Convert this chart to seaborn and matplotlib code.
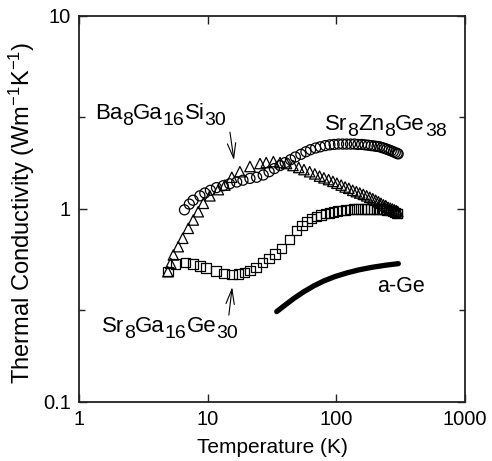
import numpy as np
import pandas as pd
import matplotlib
matplotlib.use("Agg")
import matplotlib.pyplot as plt
from matplotlib.ticker import FixedLocator, FixedFormatter, NullLocator
import seaborn as sns

# Sr8Ga16Ge30 (squares)
t_sr_ga = [4.9, 5.6, 6.7, 7.7, 8.7, 9.7, 11.6, 13.4, 15.4, 17.3, 19.3, 21.3, 23.7,
           26.8, 30.0, 33.4, 37.6, 43.1, 49.2, 54, 59, 64, 70, 76, 82, 88, 95, 102,
           110, 118, 127, 136, 145, 155, 165, 175, 185, 195, 205, 215, 225, 235,
           245, 255, 265, 275, 285, 295, 300]
k_sr_ga = [0.473, 0.519, 0.527, 0.519, 0.507, 0.495, 0.477, 0.464, 0.459, 0.460,
           0.468, 0.479, 0.496, 0.527, 0.555, 0.585, 0.626, 0.697, 0.772, 0.82,
           0.86, 0.89, 0.912, 0.93, 0.945, 0.955, 0.965, 0.975, 0.985, 0.99, 0.995,
           1.0, 1.0, 1.0, 1.0, 1.0, 1.0, 1.0, 1.0, 1.0, 1.0, 0.995, 0.99, 0.985,
           0.98, 0.97, 0.96, 0.95, 0.945]

# Ba8Ga16Si30 (triangles)
t_ba = [4.9, 5.16, 5.41, 5.91, 6.4, 7.07, 7.73, 8.45, 9.25, 10.4, 12.1, 13.6, 15.4,
        17.8, 21.3, 25.5, 28.5, 32.4, 36.5, 41, 46, 51, 56, 62, 68, 74, 80, 87, 94,
        101, 109, 117, 125, 134, 143, 152, 162, 172, 182, 192, 202, 212, 222, 232,
        242, 252, 262, 272, 282, 292, 300]
k_ba = [0.473, 0.523, 0.578, 0.638, 0.705, 0.794, 0.877, 0.968, 1.07, 1.17, 1.26,
        1.33, 1.46, 1.56, 1.66, 1.72, 1.74, 1.76, 1.74, 1.72, 1.68, 1.64, 1.60,
        1.56, 1.52, 1.48, 1.45, 1.42, 1.39, 1.36, 1.33, 1.30, 1.28, 1.25, 1.23,
        1.21, 1.19, 1.17, 1.15, 1.13, 1.11, 1.09, 1.07, 1.05, 1.04, 1.02, 1.01,
        1.00, 0.99, 0.98, 0.97]

# Sr8Zn8Ge38 (circles)
t_sr_zn = [6.6, 7.2, 7.7, 8.7, 9.5, 10.5, 11.7, 13.2, 14.8, 16.8, 18.8, 21.3, 24,
           27, 30, 33, 36.5, 40, 44, 48, 53, 58, 63, 69, 75, 82, 89, 96, 104, 112,
           120, 129, 138, 147, 157, 167, 177, 187, 197, 207, 217, 227, 237, 247,
           257, 267, 277, 287, 297, 302]
k_sr_zn = [0.99, 1.06, 1.11, 1.17, 1.21, 1.25, 1.29, 1.32, 1.35, 1.38, 1.41, 1.44,
           1.46, 1.50, 1.56, 1.62, 1.68, 1.74, 1.80, 1.86, 1.92, 1.98, 2.03, 2.07,
           2.10, 2.13, 2.15, 2.16, 2.17, 2.17, 2.17, 2.17, 2.17, 2.16, 2.16, 2.15,
           2.14, 2.13, 2.12, 2.11, 2.10, 2.08, 2.06, 2.04, 2.02, 2.00, 1.98, 1.96,
           1.94, 1.93]

# amorphous Ge (solid curve)
t_age = [34.4, 40, 47, 56, 67, 80, 97, 120, 150, 190, 240, 303]
k_age = [0.294, 0.318, 0.345, 0.373, 0.400, 0.424, 0.446, 0.466, 0.484, 0.499,
         0.511, 0.521]

x_ticks = [1, 10, 100, 1000]
x_tick_labels = ["1", "10", "100", "1000"]
y_ticks = [0.1, 1, 10]
y_tick_labels = ["0.1", "1", "10"]
y_minor_ticks = [0.3, 3]

sns.set_theme(style="ticks")
plt.rcParams["font.family"] = ["Liberation Sans", "DejaVu Sans"]
plt.rcParams["mathtext.default"] = "regular"

fig = plt.figure(figsize=(4.92, 4.61), dpi=100)
ax = fig.add_axes([0.1606, 0.128, 0.7846, 0.8373])

df_sq = pd.DataFrame({"T": t_sr_ga, "k": k_sr_ga})
df_tr = pd.DataFrame({"T": t_ba, "k": k_ba})
df_ci = pd.DataFrame({"T": t_sr_zn, "k": k_sr_zn})
df_ge = pd.DataFrame({"T": t_age, "k": k_age})

common = dict(color="black", facecolors="none", edgecolors="black",
              linewidths=0.9, legend=False, ax=ax)
sns.scatterplot(data=df_sq, x="T", y="k", marker="s", s=46, **common)
sns.scatterplot(data=df_tr, x="T", y="k", marker="^", s=56, **common)
sns.scatterplot(data=df_ci, x="T", y="k", marker="o", s=52, **common)
sns.lineplot(data=df_ge, x="T", y="k", color="black", lw=3.8, sort=False,
             estimator=None, legend=False, ax=ax)

ax.set_xscale("log")
ax.set_yscale("log")
ax.set_xlim(1, 1000)
ax.set_ylim(0.1, 10)

ax.xaxis.set_major_locator(FixedLocator(x_ticks))
ax.xaxis.set_major_formatter(FixedFormatter(x_tick_labels))
ax.xaxis.set_minor_locator(NullLocator())
ax.yaxis.set_major_locator(FixedLocator(y_ticks))
ax.yaxis.set_major_formatter(FixedFormatter(y_tick_labels))
ax.yaxis.set_minor_locator(FixedLocator(y_minor_ticks))
ax.yaxis.set_minor_formatter(FixedFormatter(["", ""]))

ax.tick_params(which="both", direction="in", top=True, right=True,
               color="#222222", width=1.0, labelsize=14.5, labelcolor="black")
ax.tick_params(which="major", length=6, pad=6)
ax.tick_params(which="minor", length=4)
for sp in ax.spines.values():
    sp.set_color("#222222")
    sp.set_linewidth(1.3)

ax.set_xlabel("Temperature (K)", fontsize=15, color="black")
ax.set_ylabel("Thermal Conductivity (Wm$^{-1}$K$^{-1}$)", fontsize=17,
              color="black")
ax.xaxis.set_label_coords(0.5, -0.093)
ax.yaxis.set_label_coords(-0.108, 0.49)


def chem_label(x, y, parts, size=16, sub_size=14, drop=3.5):
    """Write a formula with near full-size subscripts, piece by piece."""
    first = prev = None
    for piece, is_sub in parts:
        if first is None:
            t = ax.text(x, y, piece, fontsize=size, color="black",
                        ha="left", va="baseline")
            first = t
        else:
            t = ax.annotate(piece, xy=(1, 0), xycoords=(prev, first),
                            xytext=(0, -drop if is_sub else 0),
                            textcoords="offset points",
                            fontsize=sub_size if is_sub else size,
                            color="black", ha="left", va="bottom")
        prev = t


chem_label(1.33, 2.93, [("Ba", False), ("8", True), ("Ga", False), ("16", True),
                        ("Si", False), ("30", True)])
chem_label(81.7, 2.57, [("Sr", False), ("8", True), ("Zn", False), ("8", True),
                        ("Ge", False), ("38", True)])
chem_label(1.51, 0.230, [("Sr", False), ("8", True), ("Ga", False), ("16", True),
                         ("Ge", False), ("30", True)])
ax.text(207, 0.371, "a-Ge", fontsize=15.5, color="black", ha="left",
        va="baseline")

arrow = dict(arrowstyle="->,head_length=0.9,head_width=0.25", lw=0.8,
             color="black", shrinkA=0, shrinkB=0)
ax.annotate("", xy=(16.0, 1.79), xytext=(14.9, 2.5), arrowprops=arrow)
ax.annotate("", xy=(15.5, 0.394), xytext=(14.6, 0.282), arrowprops=arrow)

fig.savefig("out.png", dpi=100)
